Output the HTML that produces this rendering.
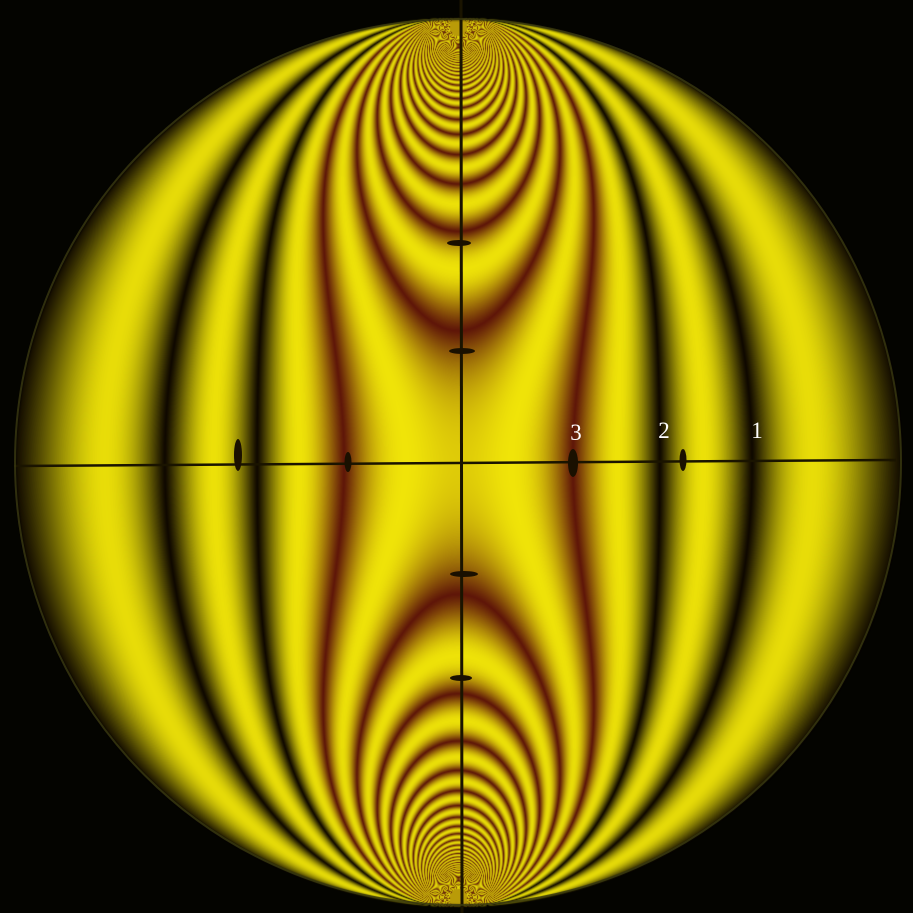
<!DOCTYPE html>
<html><head><meta charset="utf-8">
<style>
html,body{margin:0;padding:0;background:#000;}
#wrap{position:relative;width:913px;height:913px;overflow:hidden;background:#030300;}
canvas,svg{position:absolute;left:0;top:0;}
</style></head>
<body>
<div id="wrap">
<canvas id="c" width="913" height="913"></canvas>
<svg width="913" height="913">
  <line x1="461" y1="0" x2="462" y2="913" stroke="#1a1400" stroke-width="3"/>
  <line x1="14" y1="466" x2="896" y2="460" stroke="#1a1400" stroke-width="2.5"/>
  <ellipse cx="238" cy="455" rx="4" ry="16" fill="#1a1000"/>
  <ellipse cx="348" cy="462" rx="3.5" ry="10" fill="#1a1000"/>
  <ellipse cx="573" cy="463" rx="5" ry="14" fill="#1a1000"/>
  <ellipse cx="683" cy="460" rx="3.5" ry="11" fill="#1a1000"/>
  <ellipse cx="459" cy="243" rx="12" ry="3" fill="#1a1000"/>
  <ellipse cx="462" cy="351" rx="13" ry="3" fill="#1a1000"/>
  <ellipse cx="464" cy="574" rx="14" ry="3" fill="#1a1000"/>
  <ellipse cx="461" cy="678" rx="11" ry="3" fill="#1a1000"/>
  <circle cx="458" cy="462" r="443" fill="none" stroke="#3a3a10" stroke-width="2" opacity="0.8"/>
  <g font-family="Liberation Serif, serif" font-size="23" fill="#ffffff">
    <text x="576" y="440" text-anchor="middle">3</text>
    <text x="664" y="438" text-anchor="middle">2</text>
    <text x="757" y="438" text-anchor="middle">1</text>
  </g>
</svg>
</div>
<script>
const centerOrder = [3.65];
const cx = 458, cy = 462, R = 445;
const cv = document.getElementById('c');
const ctx = cv.getContext('2d');
const img = ctx.createImageData(913, 913);
const d = img.data;
for (let py = 0; py < 913; py++) {
  for (let px = 0; px < 913; px++) {
    const i = (py * 913 + px) * 4;
    const u = (px - cx) / R, v = (cy - py) / R;
    const rr = Math.sqrt(u*u + v*v);
    if (rr > 1) { d[i]=4; d[i+1]=4; d[i+2]=0; d[i+3]=255; continue; }
    const r1 = u*u + (1-v)*(1-v) + 1e-6, r2 = u*u + (1+v)*(1+v) + 1e-6;
    const a = r1*r1, b = r2*r2;
    const sx = -(u*u*(1-v)/a + u*u*(1+v)/b - 0.5);
    const sy = -(Math.pow(1-v,3)/a + Math.pow(1+v,3)/b - 0.5);
    const t = u*(1-v)*(1-v)/a - u*(1+v)*(1+v)/b;
    const D = Math.sqrt((sx-sy)*(sx-sy) + 4*t*t);
    const N = centerOrder[0] * D / 2;
    let I = Math.pow(Math.sin(Math.PI*N), 2);
    if (N > 45) I = 0.5;
    I = Math.pow(I, 0.55);
    const m = Math.round(N);
    let dr, dg, db;
    if (m <= 2) { dr = 15; dg = 8; db = 0; } else { dr = 95; dg = 22; db = 8; }
    let yr = 240, yg = 228, yb = 8;
    let edge = 1;
    if (rr > 0.99) edge = Math.max(0.2, 1 - (rr - 0.99) / 0.012);
    edge *= 1 - 0.05 * rr * rr;
    d[i]   = (dr + (yr - dr) * I) * edge;
    d[i+1] = (dg + (yg - dg) * I) * edge;
    d[i+2] = (db + (yb - db) * I) * edge;
    d[i+3] = 255;
  }
}
ctx.putImageData(img, 0, 0);
</script>
</body></html>
